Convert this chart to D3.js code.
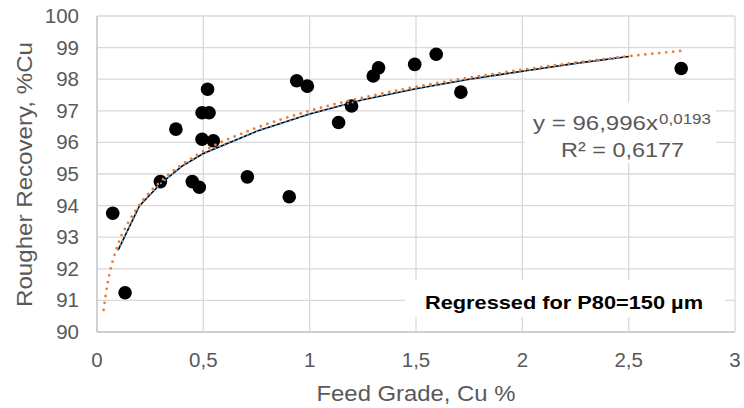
<!DOCTYPE html>
<html>
<head>
<meta charset="utf-8">
<script src="https://d3js.org/d3.v7.min.js"></script>
<style>
    body { margin: 0; background: #fff; }
    text { font-family: "Liberation Sans", Arial, sans-serif; }
</style>
</head>
<body>
<svg id="chart" width="744" height="408"></svg>
<script>
// measured points
const feedGrade = [0.074, 0.132, 0.298, 0.371, 0.448, 0.481, 0.494, 0.527, 0.520, 0.494, 0.547,
    0.707, 0.904, 0.939, 0.989, 1.136, 1.197, 1.299, 1.324, 1.494, 1.595, 1.711, 2.747];
const recovery = [93.76, 91.24, 94.76, 96.42, 94.76, 94.58, 96.94, 96.94, 97.68, 96.10, 96.05,
    94.91, 94.28, 97.95, 97.78, 96.63, 97.15, 98.10, 98.36, 98.47, 98.79, 97.59, 98.34];

// regressed model line (black, blue dots on top)
const modelX = [0.1, 0.2, 0.3, 0.4, 0.5, 0.75, 1, 1.25, 1.5, 1.75, 2, 2.25, 2.5];
const modelY = [92.6, 94.0, 94.7, 95.25, 95.65, 96.35, 96.9, 97.35, 97.7, 98.0, 98.25, 98.5, 98.72];

// power trendline (orange dotted)
const trendX = [0.031, 0.05, 0.075, 0.1, 0.15, 0.2, 0.3, 0.4, 0.5, 0.7, 1.0, 1.3, 1.6, 2.0, 2.4, 2.75];
const trendY = [90.7, 91.55, 92.27, 92.8, 93.5, 94.03, 94.77, 95.3, 95.72, 96.33, 97.0, 97.49, 97.88, 98.3, 98.65, 98.9];

const xTicks = [0, 0.5, 1, 1.5, 2, 2.5, 3];
const yTicks = [90, 91, 92, 93, 94, 95, 96, 97, 98, 99, 100];

const eqMain = "y = 96,996x";
const eqPow = "0,0193";
const r2Text = "R² = 0,6177";
const noteText = "Regressed for P80=150 µm";
const xTitle = "Feed Grade, Cu %";
const yTitle = "Rougher Recovery, %Cu";

const svg = d3.select("#chart");
const x = d3.scaleLinear().domain([0, 3]).range([97, 735]);
const y = d3.scaleLinear().domain([90, 100]).range([332, 16]);
const comma = d => String(d).replace(".", ",");

// grid
svg.append("g").selectAll("line").data(yTicks).join("line")
    .attr("x1", x(0)).attr("x2", x(3))
    .attr("y1", d => y(d)).attr("y2", d => y(d))
    .attr("stroke", "#d9d9d9").attr("stroke-width", 1.3);
svg.append("g").selectAll("line").data(xTicks).join("line")
    .attr("y1", y(90)).attr("y2", y(100))
    .attr("x1", d => x(d)).attr("x2", d => x(d))
    .attr("stroke", "#d9d9d9").attr("stroke-width", 1.3);
// axis lines
svg.append("line").attr("x1", x(0)).attr("x2", x(0)).attr("y1", y(90)).attr("y2", y(100))
    .attr("stroke", "#c8c8c8").attr("stroke-width", 1.3);
svg.append("line").attr("x1", x(0)).attr("x2", x(3)).attr("y1", y(90)).attr("y2", y(90))
    .attr("stroke", "#c8c8c8").attr("stroke-width", 1.3);

// label boxes (white, hide the grid)
svg.append("rect").attr("x", 525).attr("y", 102).attr("width", 191).attr("height", 61).attr("fill", "#fff");
svg.append("rect").attr("x", 405).attr("y", 280).attr("width", 320).attr("height", 37).attr("fill", "#fff");

// tick labels
svg.append("g").selectAll("text").data(yTicks).join("text")
    .attr("x", 79).attr("y", d => y(d) + 7)
    .attr("text-anchor", "end").attr("font-size", 20.5).attr("fill", "#595959")
    .text(d => d);
svg.append("g").selectAll("text").data(xTicks).join("text")
    .attr("x", d => x(d)).attr("y", 367)
    .attr("text-anchor", "middle").attr("font-size", 20.5).attr("fill", "#595959")
    .text(comma);

// axis titles
svg.append("text").attr("x", 416).attr("y", 401).attr("text-anchor", "middle")
    .attr("font-size", 22).attr("fill", "#595959")
    .attr("textLength", 199).attr("lengthAdjust", "spacingAndGlyphs").text(xTitle);
svg.append("text").attr("transform", "translate(32,174.5) rotate(-90)").attr("text-anchor", "middle")
    .attr("font-size", 22).attr("fill", "#595959")
    .attr("textLength", 265).attr("lengthAdjust", "spacingAndGlyphs").text(yTitle);

// points
svg.append("g").selectAll("circle").data(feedGrade).join("circle")
    .attr("cx", d => x(d)).attr("cy", (d, i) => y(recovery[i]))
    .attr("r", 6.8).attr("fill", "#000");

// model line
const model = modelX.map((d, i) => [d, modelY[i]]);
const lin = d3.line().x(d => x(d[0])).y(d => y(d[1]));
svg.append("path").attr("d", lin(model)).attr("fill", "none")
    .attr("stroke", "#000").attr("stroke-width", 1.6);
svg.append("path").attr("d", lin(model)).attr("fill", "none")
    .attr("stroke", "#5b9bd5").attr("stroke-width", 2.2)
    .attr("stroke-linecap", "round").attr("stroke-dasharray", "0,5");

// trendline
const trend = trendX.map((d, i) => [d, trendY[i]]);
const smooth = d3.line().curve(d3.curveMonotoneX).x(d => x(d[0])).y(d => y(d[1]));
svg.append("path").attr("d", smooth(trend)).attr("fill", "none")
    .attr("stroke", "#ed7d31").attr("stroke-width", 2.8)
    .attr("stroke-linecap", "round").attr("stroke-dasharray", "0,7");

// equation labels
svg.append("text").attr("x", 533).attr("y", 130).attr("font-size", 21).attr("fill", "#595959")
    .attr("textLength", 125).attr("lengthAdjust", "spacingAndGlyphs").text(eqMain);
svg.append("text").attr("x", 659).attr("y", 124).attr("font-size", 15).attr("fill", "#595959")
    .attr("textLength", 52).attr("lengthAdjust", "spacingAndGlyphs").text(eqPow);
svg.append("text").attr("x", 561).attr("y", 157).attr("font-size", 21).attr("fill", "#595959")
    .attr("textLength", 123).attr("lengthAdjust", "spacingAndGlyphs").text(r2Text);

svg.append("text").attr("x", 425).attr("y", 309)
    .attr("font-size", 19).attr("font-weight", "bold").attr("fill", "#000")
    .attr("textLength", 278).attr("lengthAdjust", "spacingAndGlyphs").text(noteText);
</script>
</body>
</html>
